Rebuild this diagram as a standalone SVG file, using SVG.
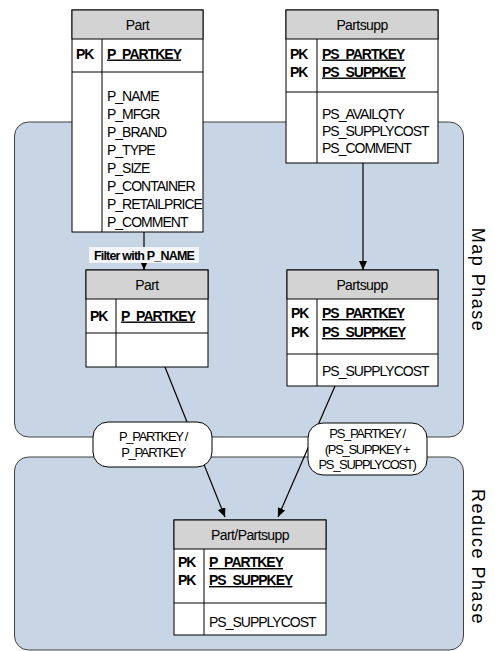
<svg xmlns="http://www.w3.org/2000/svg" width="495" height="651" viewBox="0 0 495 651">
<defs>
<marker id="arr" markerWidth="10" markerHeight="8" refX="9" refY="4" orient="auto" markerUnits="userSpaceOnUse">
<path d="M0,0 L9,4 L0,8 Z" fill="#000"/>
</marker>
<style>
text{font-family:"Liberation Sans",Arial,sans-serif;fill:#000}
.phase{fill:#c8d5e5;stroke:#404040;stroke-width:1}
.box{fill:#fff;stroke:#000;stroke-width:1}
.hdr{fill:#d3d3d3;stroke:#000;stroke-width:1}
.ln{stroke:#000;stroke-width:1;fill:none}
.t{font-size:14px;letter-spacing:-1px}
.h{font-size:14px;letter-spacing:-0.6px;text-anchor:middle}
.pk{font-size:14px;font-weight:bold;letter-spacing:-1px}
.key{font-size:14px;font-weight:bold;letter-spacing:-1px;text-decoration:underline}
.conn{stroke:#000;stroke-width:1.2;fill:none;marker-end:url(#arr)}
.oval{fill:#fff;stroke:#000;stroke-width:1}
.ot{font-size:13px;text-anchor:middle;letter-spacing:-1.3px}
.lbl{font-size:18px;letter-spacing:1.5px;text-anchor:middle}
</style>
</defs>
<g id="map-phase">
<rect class="phase" x="14.5" y="122" width="449" height="315" rx="14"/>
<text class="lbl" transform="translate(472,280) rotate(90)">Map Phase</text>
</g>
<g id="reduce-phase">
<rect class="phase" x="14.5" y="457" width="449" height="193" rx="14"/>
<text class="lbl" transform="translate(472,557) rotate(90)">Reduce Phase</text>
</g>
<g id="connectors">
<line class="conn" x1="144" y1="232" x2="144" y2="270"/>
<line class="conn" x1="363" y1="163" x2="363" y2="270"/>
<line class="conn" x1="165" y1="367" x2="225" y2="517"/>
<line class="conn" x1="335" y1="386" x2="278" y2="517"/>
</g>
<g id="filter-label">
<rect x="89" y="247" width="110" height="16" fill="#f3f5f9"/>
<text x="144" y="259.5" style="font-size:12.5px;font-weight:bold;letter-spacing:-0.8px;text-anchor:middle">Filter with P_NAME</text>
</g>
<g id="oval-part">
<rect class="oval" x="93" y="422" width="119" height="45" rx="15"/>
<text class="ot" x="153" y="441">P_PARTKEY /</text>
<text class="ot" x="153" y="457">P_PARTKEY</text>
</g>
<g id="oval-partsupp">
<rect class="oval" x="308" y="423" width="119" height="52" rx="15"/>
<text class="ot" x="367" y="438">PS_PARTKEY /</text>
<text class="ot" x="367" y="454">(PS_SUPPKEY +</text>
<text class="ot" x="367" y="469">PS_SUPPLYCOST)</text>
</g>
<g id="part">
<rect class="box" x="72" y="10" width="131" height="222"/>
<rect class="hdr" x="72" y="10" width="131" height="29"/>
<line class="ln" x1="72" y1="72" x2="203" y2="72"/>
<line class="ln" x1="102" y1="39" x2="102" y2="232"/>
<text class="h" x="137.5" y="29.5">Part</text>
<text class="pk" x="76" y="58.5">PK</text>
<text class="key" x="107" y="58.5">P_PARTKEY</text>
<text class="t" x="107" y="101">P_NAME</text>
<text class="t" x="107" y="119">P_MFGR</text>
<text class="t" x="107" y="137">P_BRAND</text>
<text class="t" x="107" y="155">P_TYPE</text>
<text class="t" x="107" y="173">P_SIZE</text>
<text class="t" x="107" y="191">P_CONTAINER</text>
<text class="t" x="107" y="209">P_RETAILPRICE</text>
<text class="t" x="107" y="227">P_COMMENT</text>
</g>
<g id="partsupp">
<rect class="box" x="286" y="10" width="152" height="153"/>
<rect class="hdr" x="286" y="10" width="152" height="29"/>
<line class="ln" x1="286" y1="92" x2="438" y2="92"/>
<line class="ln" x1="317" y1="39" x2="317" y2="163"/>
<text class="h" x="362" y="29.5">Partsupp</text>
<text class="pk" x="290" y="58.5">PK</text>
<text class="pk" x="290" y="76.5">PK</text>
<text class="key" x="322" y="58.5">PS_PARTKEY</text>
<text class="key" x="322" y="76.5">PS_SUPPKEY</text>
<text class="t" x="322" y="118.5">PS_AVAILQTY</text>
<text class="t" x="322" y="135.5">PS_SUPPLYCOST</text>
<text class="t" x="322" y="152.5">PS_COMMENT</text>
</g>
<g id="part-filtered">
<rect class="box" x="86" y="270" width="122" height="97"/>
<rect class="hdr" x="86" y="270" width="122" height="29"/>
<line class="ln" x1="86" y1="333" x2="208" y2="333"/>
<line class="ln" x1="116" y1="299" x2="116" y2="367"/>
<text class="h" x="147" y="289.5">Part</text>
<text class="pk" x="90" y="320.5">PK</text>
<text class="key" x="121" y="320.5">P_PARTKEY</text>
</g>
<g id="partsupp-projected">
<rect class="box" x="287" y="270" width="151" height="116"/>
<rect class="hdr" x="287" y="270" width="151" height="29"/>
<line class="ln" x1="287" y1="354" x2="438" y2="354"/>
<line class="ln" x1="317" y1="299" x2="317" y2="386"/>
<text class="h" x="362" y="289.5">Partsupp</text>
<text class="pk" x="291" y="318">PK</text>
<text class="pk" x="291" y="337">PK</text>
<text class="key" x="322" y="318">PS_PARTKEY</text>
<text class="key" x="322" y="337">PS_SUPPKEY</text>
<text class="t" x="322" y="376">PS_SUPPLYCOST</text>
</g>
<g id="part-partsupp">
<rect class="box" x="174" y="520" width="152" height="115"/>
<rect class="hdr" x="174" y="520" width="152" height="29"/>
<line class="ln" x1="174" y1="603" x2="326" y2="603"/>
<line class="ln" x1="204" y1="549" x2="204" y2="635"/>
<text class="h" x="250" y="539.5">Part/Partsupp</text>
<text class="pk" x="178" y="567">PK</text>
<text class="pk" x="178" y="585">PK</text>
<text class="key" x="209" y="567">P_PARTKEY</text>
<text class="key" x="209" y="585">PS_SUPPKEY</text>
<text class="t" x="209" y="627">PS_SUPPLYCOST</text>
</g>
</svg>
